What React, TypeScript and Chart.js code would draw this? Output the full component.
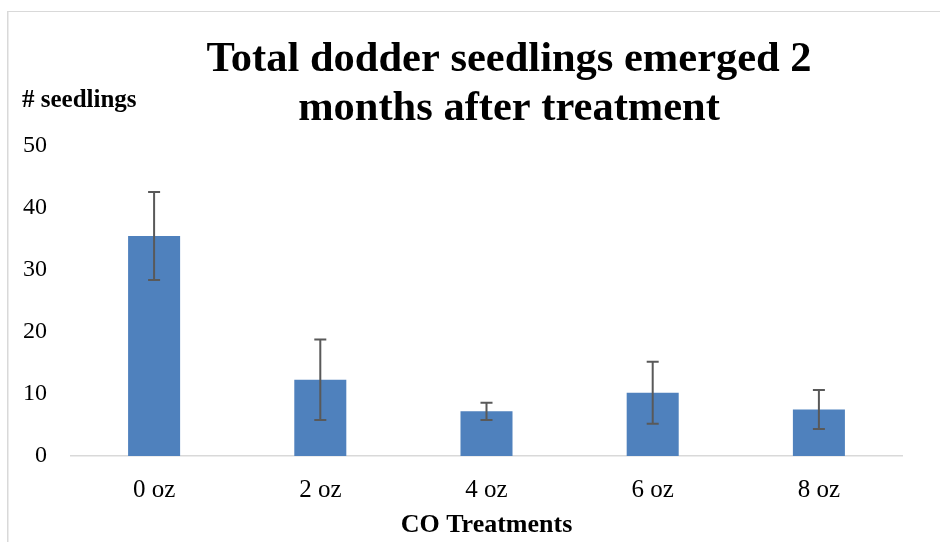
import { useEffect, useRef } from "react";
import { Chart, registerables } from "chart.js";

Chart.register(...registerables);

const categories = ["0 oz", "2 oz", "4 oz", "6 oz", "8 oz"];
const seedlings = [35.5, 12.3, 7.2, 10.2, 7.5];
const errors = [7.1, 6.5, 1.4, 5.0, 3.15];
const yTicks = [0, 10, 20, 30, 40, 50];
const titleLines = ["Total dodder seedlings emerged 2", "months after treatment"];
const yAxisLabel = "# seedlings";
const xAxisLabel = "CO Treatments";

const FONT = "'Liberation Serif', 'Times New Roman', serif";

const decorPlugin = {
  id: "decor",
  beforeDraw(chart: any) {
    const ctx = chart.ctx;
    ctx.save();
    ctx.fillStyle = "#ffffff";
    ctx.fillRect(0, 0, chart.width, chart.height);
    ctx.fillStyle = "#d9d9d9";
    ctx.fillRect(7, 11, 1.5, chart.height - 11);
    ctx.fillRect(7, 11, chart.width - 7, 1);
    ctx.restore();
  },
  afterDraw(chart: any) {
    const ctx = chart.ctx;
    ctx.save();
    ctx.fillStyle = "#000000";
    ctx.textAlign = "center";
    ctx.textBaseline = "alphabetic";
    ctx.font = `bold 42.5px ${FONT}`;
    ctx.fillText(titleLines[0], 509, 71);
    ctx.fillText(titleLines[1], 509, 120);
    ctx.textAlign = "left";
    ctx.font = `bold 25px ${FONT}`;
    ctx.fillText(yAxisLabel, 22, 107);
    ctx.restore();
  },
};

const errorBarPlugin = {
  id: "errorBars",
  afterDatasetsDraw(chart: any) {
    const ctx = chart.ctx;
    const meta = chart.getDatasetMeta(0);
    const yScale = chart.scales.y;
    ctx.save();
    ctx.strokeStyle = "#595959";
    ctx.lineWidth = 2;
    meta.data.forEach((bar: any, i: number) => {
      const x = bar.x;
      const yTop = yScale.getPixelForValue(seedlings[i] + errors[i]);
      const yBot = yScale.getPixelForValue(seedlings[i] - errors[i]);
      ctx.beginPath();
      ctx.moveTo(x, yTop);
      ctx.lineTo(x, yBot);
      ctx.moveTo(x - 6, yTop);
      ctx.lineTo(x + 6, yTop);
      ctx.moveTo(x - 6, yBot);
      ctx.lineTo(x + 6, yBot);
      ctx.stroke();
    });
    ctx.restore();
  },
};

export default function App() {
  const canvasRef = useRef<HTMLCanvasElement | null>(null);

  useEffect(() => {
    if (!canvasRef.current) return;
    const chart = new Chart(canvasRef.current, {
      type: "bar",
      data: {
        labels: categories,
        datasets: [
          {
            label: "Seedlings",
            data: seedlings,
            backgroundColor: "#4f81bd",
            borderWidth: 0,
            barPercentage: 0.313,
            categoryPercentage: 1,
          },
        ],
      },
      options: {
        animation: false,
        responsive: false,
        maintainAspectRatio: false,
        layout: { padding: { top: 146, right: 38, bottom: 0, left: 0 } },
        plugins: {
          legend: { display: false },
          tooltip: { enabled: false },
          title: { display: false },
        },
        scales: {
          x: {
            grid: { display: false, drawTicks: false },
            border: { display: true, color: "#d9d9d9", width: 1.5 },
            ticks: {
              color: "#000000",
              font: { family: FONT, size: 25 },
              padding: 19,
            },
            title: {
              display: true,
              text: xAxisLabel,
              color: "#000000",
              font: { family: FONT, size: 26, weight: "bold" },
              padding: { top: 0, bottom: 1 },
            },
            afterFit(scale: any) {
              scale.height = 86;
            },
          },
          y: {
            min: yTicks[0],
            max: yTicks[yTicks.length - 1],
            grid: { display: false, drawTicks: false },
            border: { display: false },
            ticks: {
              stepSize: yTicks[1] - yTicks[0],
              color: "#000000",
              font: { family: FONT, size: 24 },
              padding: 24,
            },
            afterFit(scale: any) {
              scale.width = 71;
            },
          },
        },
      },
      plugins: [decorPlugin, errorBarPlugin],
    });
    return () => chart.destroy();
  }, []);

  return (
    <div style={{ position: "fixed", left: 0, top: 0, width: 940, height: 542, background: "#fff" }}>
      <canvas ref={canvasRef} width={940} height={542} style={{ width: 940, height: 542, display: "block" }} />
    </div>
  );
}
